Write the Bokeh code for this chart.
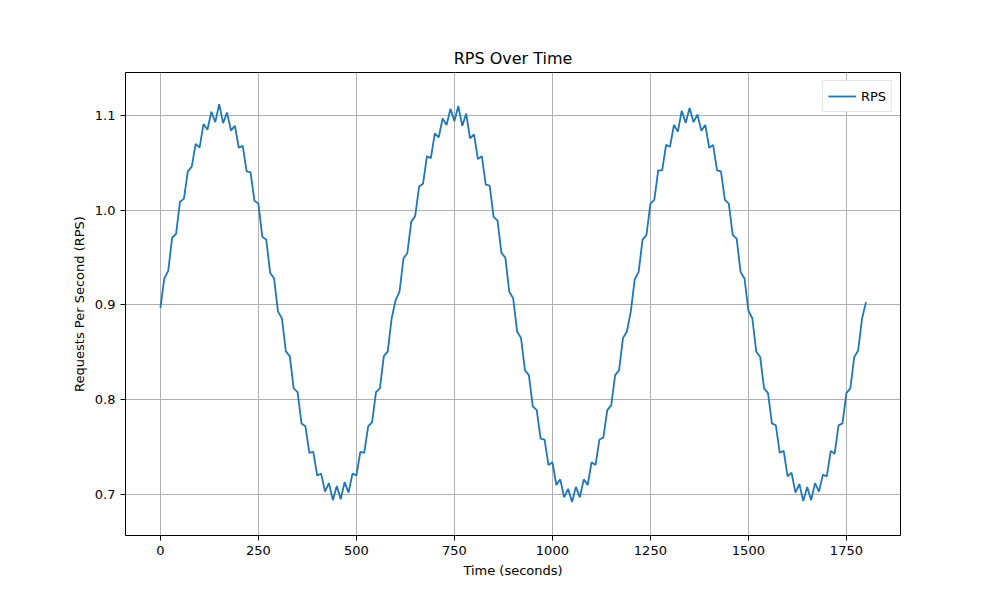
from bokeh.plotting import figure
from bokeh.models import FixedTicker, PrintfTickFormatter, Range1d
from bokeh.embed import file_html
from bokeh.resources import INLINE

# time axis, one sample every 10 seconds
seconds = list(range(0, 1801, 10))

# requests per second
rps_cycle1 = [0.897, 0.928, 0.936, 0.971, 0.975, 1.009, 1.012, 1.041, 1.046, 1.070,
              1.066, 1.091, 1.085, 1.104, 1.093, 1.112, 1.092, 1.103, 1.084, 1.089,
              1.066, 1.068, 1.041, 1.040, 1.010, 1.007, 0.972, 0.969, 0.934, 0.928,
              0.893, 0.886, 0.851, 0.846, 0.812, 0.808, 0.775, 0.772, 0.744, 0.745,
              0.720, 0.722, 0.703, 0.712, 0.694, 0.709, 0.695, 0.713, 0.702, 0.722,
              0.720, 0.745, 0.744, 0.772, 0.776, 0.808, 0.812, 0.846, 0.851, 0.886]
rps_cycle2 = [0.905, 0.914, 0.949, 0.955, 0.988, 0.994, 1.025, 1.028, 1.057, 1.055,
              1.081, 1.077, 1.097, 1.090, 1.107, 1.094, 1.110, 1.089, 1.102, 1.076,
              1.080, 1.054, 1.057, 1.027, 1.026, 0.993, 0.989, 0.955, 0.950, 0.914,
              0.907, 0.872, 0.865, 0.831, 0.826, 0.793, 0.789, 0.759, 0.758, 0.731,
              0.734, 0.710, 0.716, 0.697, 0.706, 0.692, 0.708, 0.697, 0.716, 0.710,
              0.734, 0.731, 0.758, 0.760, 0.789, 0.794, 0.826, 0.831, 0.865, 0.872]
rps_cycle3 = [0.893, 0.927, 0.935, 0.969, 0.974, 1.007, 1.011, 1.042, 1.042, 1.069,
              1.067, 1.090, 1.083, 1.105, 1.092, 1.108, 1.093, 1.101, 1.084, 1.090,
              1.066, 1.069, 1.042, 1.041, 1.011, 1.007, 0.974, 0.970, 0.935, 0.928,
              0.894, 0.886, 0.851, 0.845, 0.812, 0.807, 0.775, 0.773, 0.744, 0.746,
              0.719, 0.723, 0.702, 0.711, 0.693, 0.708, 0.694, 0.712, 0.703, 0.721,
              0.719, 0.746, 0.743, 0.773, 0.775, 0.807, 0.812, 0.845, 0.852, 0.886]
rps_end = [0.903]
rps = rps_cycle1 + rps_cycle2 + rps_cycle3 + rps_end

x_ticks = [0, 250, 500, 750, 1000, 1250, 1500, 1750]
y_ticks = [0.7, 0.8, 0.9, 1.0, 1.1]

font = "DejaVu Sans"

p = figure(width=992, height=592, output_backend="svg", toolbar_location=None,
           title="RPS Over Time", x_axis_label="Time (seconds)",
           y_axis_label="Requests Per Second (RPS)",
           min_border_left=125, min_border_right=92, min_border_top=72,
           min_border_bottom=57)
p.x_range = Range1d(-89, 1888)
p.y_range = Range1d(0.6567, 1.1454)

p.line(seconds, rps, color="#1f77b4", line_width=1.8, legend_label="RPS")

# title
p.title.align = "center"
p.title.text_font = font
p.title.text_font_size = "16px"
p.title.text_font_style = "normal"
p.title.text_color = "black"

# axes
for ax in (p.xaxis[0], p.yaxis[0]):
    ax.axis_label_text_font = font
    ax.axis_label_text_font_size = "13px"
    ax.axis_label_text_font_style = "normal"
    ax.axis_label_text_color = "black"
    ax.major_label_text_font = font
    ax.major_label_text_font_size = "13px"
    ax.major_label_text_color = "black"
    ax.minor_tick_line_color = None
    ax.major_tick_line_color = "black"
    ax.major_tick_in = 0
    ax.major_tick_out = 5
    ax.axis_line_color = None
p.xaxis[0].ticker = FixedTicker(ticks=x_ticks)
p.yaxis[0].ticker = FixedTicker(ticks=y_ticks)
p.yaxis[0].formatter = PrintfTickFormatter(format="%.1f")

# grid and frame
p.grid.grid_line_color = "#b0b0b0"
p.grid.grid_line_width = 1
p.outline_line_color = "black"
p.outline_line_width = 1

# legend
p.legend.location = "top_right"
p.legend.label_text_font = font
p.legend.label_text_font_size = "13px"
p.legend.label_text_color = "black"
p.legend.border_line_color = "#cccccc"
p.legend.glyph_width = 28
p.legend.padding = 5
p.legend.spacing = 0
p.legend.margin = 8

open("out.html", "w").write(file_html(p, INLINE))
